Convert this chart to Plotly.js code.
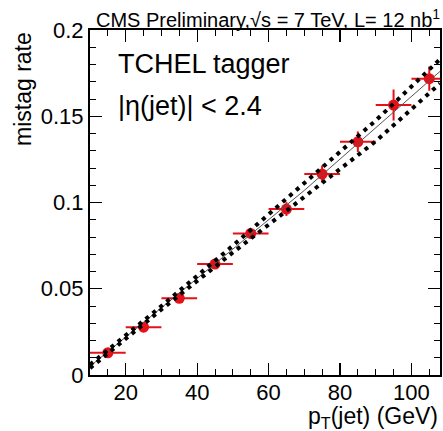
<!DOCTYPE html>
<html>
<head>
<meta charset="utf-8">
<script src="https://cdn.plot.ly/plotly-3.0.1.min.js"></script>
<style>html,body{margin:0;padding:0;background:#fff;}#chart{width:443px;height:431px;}</style>
</head>
<body>
<div id="chart"></div>
<script>
// Measured mistag rate per pT bin
const binCenters = [15, 25, 35, 45, 55, 65, 75, 85, 95, 105];
const binHalfWidth = [5, 5, 5, 5, 5, 5, 5, 5, 5, 5];
const mistagRate = [0.0129, 0.0277, 0.0445, 0.0643, 0.0821, 0.0962, 0.1165, 0.1352, 0.1565, 0.1718];
const mistagErr = [0.0005, 0.001, 0.0015, 0.002, 0.003, 0.004, 0.005, 0.006, 0.009, 0.007];

// Fit curve and its uncertainty band
const fitX = [10, 40, 70, 108];
const fitY = [0.005, 0.056, 0.107, 0.176];
const bandX = [10, 30, 50, 70, 90, 108];
const bandUp = [0.006, 0.040, 0.075, 0.111, 0.1475, 0.183];
const bandLo = [0.004, 0.038, 0.071, 0.103, 0.1355, 0.169];

const xTickVals = [20, 40, 60, 80, 100];
const yTickVals = [0, 0.05, 0.1, 0.15, 0.2];

const FONT = 'Liberation Sans, Arial, Helvetica, sans-serif';

const traces = [
  {
    x: binCenters, y: mistagRate, type: 'scatter', mode: 'markers',
    marker: {color: 'rgb(228,18,24)', size: 11, line: {width: 0}},
    error_y: {type: 'data', array: mistagErr, color: 'rgb(228,18,24)', thickness: 2, width: 0},
    error_x: {type: 'data', array: binHalfWidth, color: 'rgb(228,18,24)', thickness: 2, width: 0},
    showlegend: false, hoverinfo: 'x+y'
  },
  {
    x: fitX, y: fitY, type: 'scatter', mode: 'lines',
    line: {color: '#555', width: 1}, showlegend: false
  },
  {
    x: bandX, y: bandUp, type: 'scatter', mode: 'lines',
    line: {color: '#000', width: 4, dash: '4px,5px'}, showlegend: false
  },
  {
    x: bandX, y: bandLo, type: 'scatter', mode: 'lines',
    line: {color: '#000', width: 4, dash: '4px,5px'}, showlegend: false
  }
];

const layout = {
  width: 443, height: 431,
  margin: {l: 90, r: 3, t: 30, b: 56, pad: 0},
  paper_bgcolor: '#fff', plot_bgcolor: '#fff',
  font: {family: FONT, color: '#000'},
  xaxis: {
    range: [10, 108], tickvals: xTickVals, ticktext: xTickVals.map(String),
    ticks: 'inside', ticklen: 12, tickwidth: 1.2, tickcolor: '#000',
    ticklabelstandoff: -3,
    minor: {dtick: 5, tick0: 0, ticks: 'inside', ticklen: 6, tickwidth: 1, tickcolor: '#000'},
    showline: true, linecolor: '#000', linewidth: 2, mirror: 'allticks',
    showgrid: false, zeroline: false,
    tickfont: {size: 22, family: FONT, color: '#000'}
  },
  yaxis: {
    range: [0, 0.2], tickvals: yTickVals, ticktext: ['0', '0.05', '0.1', '0.15', '0.2'],
    ticks: 'inside', ticklen: 12, tickwidth: 1.2, tickcolor: '#000',
    minor: {dtick: 0.01, tick0: 0, ticks: 'inside', ticklen: 6, tickwidth: 1, tickcolor: '#000'},
    showline: true, linecolor: '#000', linewidth: 2, mirror: 'allticks',
    showgrid: false, zeroline: false,
    tickfont: {size: 22, family: FONT, color: '#000'}
  },
  annotations: [
    {text: 'CMS Preliminary,√s = 7 TeV, L= 12 nb<sup>1</sup>', xref: 'paper', yref: 'paper',
     x: 1.0, y: 1.0, xanchor: 'right', yanchor: 'bottom', yshift: -3, xshift: 2, showarrow: false,
     font: {size: 20, family: FONT, color: '#000'}},
    {text: 'TCHEL tagger', xref: 'paper', yref: 'paper', x: 0.075, y: 0.902,
     xanchor: 'left', yanchor: 'middle', showarrow: false,
     font: {size: 27, family: FONT, color: '#000'}},
    {text: '|η(jet)| < 2.4', xref: 'paper', yref: 'paper', x: 0.075, y: 0.78,
     xanchor: 'left', yanchor: 'middle', showarrow: false,
     font: {size: 27, family: FONT, color: '#000'}},
    {text: 'p<sub>T</sub>(jet) (GeV)', xref: 'paper', yref: 'paper', x: 1.0, y: 0, yshift: -26,
     xanchor: 'right', yanchor: 'top', showarrow: false,
     font: {size: 23, family: FONT, color: '#000'}},
    {text: 'mistag rate', xref: 'paper', yref: 'paper', x: 0, xshift: -67, y: 1.0,
     xanchor: 'center', yanchor: 'top', textangle: -90, showarrow: false,
     font: {size: 23, family: FONT, color: '#000'}}
  ]
};

Plotly.newPlot('chart', traces, layout, {staticPlot: true, displayModeBar: false});
</script>
</body>
</html>
